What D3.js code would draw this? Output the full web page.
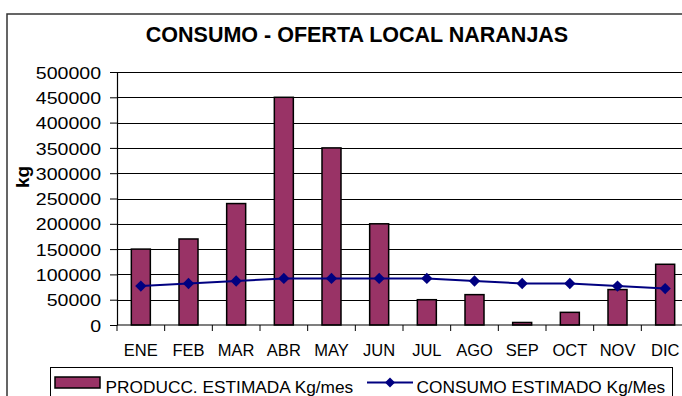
<!DOCTYPE html>
<html>
<head>
<meta charset="utf-8">
<script src="https://cdn.jsdelivr.net/npm/d3@7"></script>
<style>
  html, body { margin: 0; padding: 0; background: #fff; }
  svg { display: block; font-family: "Liberation Sans", Arial, sans-serif; }
</style>
</head>
<body>
<svg id="chart" width="682" height="396"></svg>
<script>
// Monthly orange supply vs. estimated local consumption (kg)
const months = ["ENE", "FEB", "MAR", "ABR", "MAY", "JUN", "JUL", "AGO", "SEP", "OCT", "NOV", "DIC"];
const produccion = [150000, 170000, 240000, 450000, 350000, 200000, 50000, 60000, 5000, 25000, 70000, 120000];
const consumo = [77000, 82000, 87000, 92000, 92000, 92000, 92000, 87000, 82000, 82000, 77000, 72000];
const yTicks = [0, 50000, 100000, 150000, 200000, 250000, 300000, 350000, 400000, 450000, 500000];

const seriesNames = ["PRODUCC. ESTIMADA Kg/mes", "CONSUMO ESTIMADO Kg/Mes"];
const barColor = "#993366";
const lineColor = "#000080";

const svg = d3.select("#chart");

// outer chart frame
svg.append("rect")
  .attr("x", 7).attr("y", 14)
  .attr("width", 720).attr("height", 420)
  .attr("fill", "#fff").attr("stroke", "#333").attr("stroke-width", 1.5);

// title
svg.append("text")
  .attr("x", 357).attr("y", 42)
  .attr("text-anchor", "middle")
  .attr("font-weight", "bold")
  .attr("font-size", 21.5)
  .text("CONSUMO - OFERTA LOCAL NARANJAS");

const plotLeft = 117, plotRight = 689, plotTop = 72, plotBottom = 325;

const x = d3.scaleBand().domain(months).range([plotLeft, plotRight]).padding(0);
const y = d3.scaleLinear().domain([0, 500000]).range([plotBottom, plotTop]);

// horizontal gridlines
svg.append("g")
  .selectAll("line")
  .data(yTicks.filter(d => d > 0))
  .join("line")
  .attr("x1", plotLeft).attr("x2", plotRight)
  .attr("y1", d => Math.round(y(d)) + 0.5).attr("y2", d => Math.round(y(d)) + 0.5)
  .attr("stroke", "#000").attr("stroke-width", 1);

// y axis
const yAxis = svg.append("g")
  .attr("transform", `translate(${plotLeft},0)`)
  .call(d3.axisLeft(y).tickValues(yTicks).tickSize(7).tickSizeOuter(0).tickFormat(d3.format("d")));
yAxis.select(".domain").attr("stroke", "#000").attr("stroke-width", 1.2);
yAxis.selectAll(".tick line").attr("stroke", "#000");
yAxis.selectAll(".tick text")
  .attr("font-family", "Liberation Sans, Arial, sans-serif")
  .attr("font-size", 17)
  .attr("fill", "#000")
  .attr("x", -16 / 1.15)
  .attr("dy", "0.36em")
  .attr("transform", "scale(1.15,1)");

// y axis title
svg.append("text")
  .attr("transform", "translate(29,177) rotate(-90)")
  .attr("text-anchor", "middle")
  .attr("font-weight", "bold")
  .attr("font-size", 19)
  .text("kg");

// bars
const barW = 19;
svg.append("g")
  .selectAll("rect")
  .data(months.map((m, i) => ({ m, v: produccion[i] })))
  .join("rect")
  .attr("x", d => x(d.m) + x.bandwidth() / 2 - barW / 2)
  .attr("y", d => y(d.v))
  .attr("width", barW)
  .attr("height", d => y(0) - y(d.v))
  .attr("fill", barColor)
  .attr("stroke", "#000")
  .attr("stroke-width", 1.5);

// x axis baseline with ticks at category boundaries
svg.append("line")
  .attr("x1", plotLeft).attr("x2", plotRight)
  .attr("y1", plotBottom).attr("y2", plotBottom)
  .attr("stroke", "#000").attr("stroke-width", 1.2);
const bounds = months.map(m => x(m)).concat([plotRight]);
svg.append("g")
  .selectAll("line")
  .data(bounds)
  .join("line")
  .attr("x1", d => d).attr("x2", d => d)
  .attr("y1", plotBottom).attr("y2", plotBottom + 6)
  .attr("stroke", "#000");

// month labels
const xAxis = svg.append("g")
  .attr("transform", `translate(0,${plotBottom})`)
  .call(d3.axisBottom(x).tickSize(0).tickPadding(0));
xAxis.select(".domain").remove();
xAxis.selectAll(".tick text")
  .attr("font-family", "Liberation Sans, Arial, sans-serif")
  .attr("font-size", 16.5)
  .attr("fill", "#000")
  .attr("y", 31)
  .attr("dy", 0);

// consumption line with diamond markers
const cx = i => x(months[i]) + x.bandwidth() / 2;
const line = d3.line()
  .x((d, i) => cx(i))
  .y(d => y(d));
svg.append("path")
  .datum(consumo)
  .attr("d", line)
  .attr("fill", "none")
  .attr("stroke", lineColor)
  .attr("stroke-width", 2);

const marker = d3.symbol().type(d3.symbolSquare).size(64);
svg.append("g")
  .selectAll("path")
  .data(consumo)
  .join("path")
  .attr("transform", (d, i) => `translate(${cx(i)},${y(d)}) rotate(45)`)
  .attr("d", marker)
  .attr("fill", lineColor);

// legend
const legend = svg.append("g");
legend.append("rect")
  .attr("x", 50.5).attr("y", 367.5)
  .attr("width", 622).attr("height", 60)
  .attr("fill", "#fff").attr("stroke", "#000").attr("stroke-width", 1);
legend.append("rect")
  .attr("x", 55).attr("y", 377)
  .attr("width", 45).attr("height", 11)
  .attr("fill", barColor).attr("stroke", "#000").attr("stroke-width", 1.5);
legend.append("text")
  .attr("x", 105.5).attr("y", 393)
  .attr("font-size", 17.3)
  .text(seriesNames[0]);
legend.append("line")
  .attr("x1", 367).attr("x2", 413)
  .attr("y1", 382.5).attr("y2", 382.5)
  .attr("stroke", lineColor).attr("stroke-width", 2);
legend.append("path")
  .attr("transform", "translate(390,382.5) rotate(45)")
  .attr("d", d3.symbol().type(d3.symbolSquare).size(50))
  .attr("fill", lineColor);
legend.append("text")
  .attr("x", 416.5).attr("y", 393)
  .attr("font-size", 17.3)
  .text(seriesNames[1]);
</script>
</body>
</html>
